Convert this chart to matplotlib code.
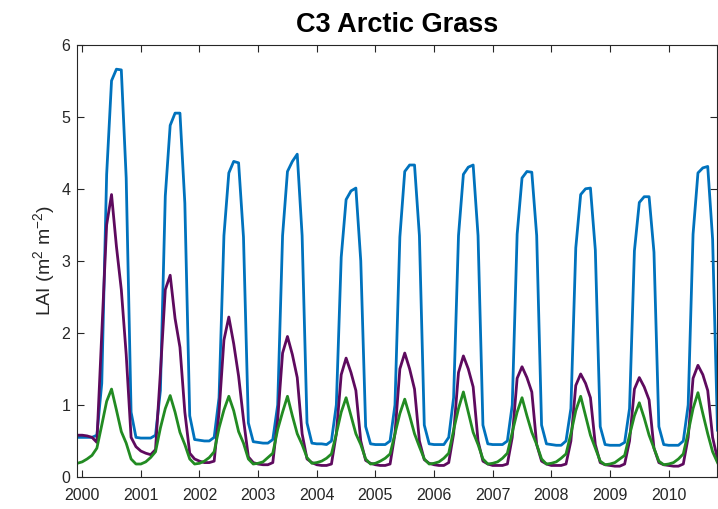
import numpy as np
import matplotlib
matplotlib.use('Agg')
import matplotlib.pyplot as plt

plt.rcParams['font.family'] = ['Liberation Sans', 'DejaVu Sans']
plt.rcParams['mathtext.fontset'] = 'custom'
plt.rcParams['mathtext.rm'] = 'Liberation Sans'
plt.rcParams['mathtext.it'] = 'Liberation Sans:italic'

# monthly LAI, one row per year (12 values each), first value ~ Dec 1999
start_year = 1999.917
years = list(range(2000, 2011))

lai_blue = [
    0.55, 0.55, 0.55, 0.55, 0.58, 1.30, 4.20, 5.50, 5.66, 5.65, 4.15, 0.90,
    0.55, 0.54, 0.54, 0.54, 0.58, 1.20, 3.90, 4.88, 5.05, 5.05, 3.80, 0.85,
    0.52, 0.51, 0.50, 0.50, 0.55, 1.10, 3.35, 4.22, 4.38, 4.36, 3.33, 0.75,
    0.49, 0.48, 0.47, 0.47, 0.52, 1.00, 3.35, 4.24, 4.38, 4.48, 3.35, 0.75,
    0.47, 0.46, 0.46, 0.45, 0.50, 1.00, 3.05, 3.85, 3.97, 4.01, 3.00, 0.70,
    0.46, 0.45, 0.45, 0.45, 0.50, 1.00, 3.33, 4.24, 4.33, 4.33, 3.35, 0.72,
    0.46, 0.45, 0.45, 0.45, 0.55, 1.10, 3.35, 4.20, 4.30, 4.33, 3.35, 0.72,
    0.46, 0.45, 0.45, 0.45, 0.50, 1.00, 3.37, 4.15, 4.24, 4.23, 3.35, 0.72,
    0.46, 0.45, 0.44, 0.44, 0.50, 0.95, 3.18, 3.92, 4.00, 4.01, 3.15, 0.70,
    0.45, 0.44, 0.44, 0.44, 0.48, 0.95, 3.14, 3.81, 3.89, 3.89, 3.12, 0.70,
    0.45, 0.44, 0.44, 0.44, 0.50, 1.00, 3.37, 4.22, 4.29, 4.31, 3.30, 0.65,
]

lai_purple = [
    0.58, 0.58, 0.57, 0.55, 0.48, 2.00, 3.50, 3.92, 3.20, 2.60, 1.70, 0.55,
    0.42, 0.36, 0.33, 0.31, 0.38, 1.45, 2.60, 2.80, 2.20, 1.80, 0.90, 0.33,
    0.25, 0.22, 0.20, 0.20, 0.22, 0.90, 1.90, 2.22, 1.85, 1.40, 0.80, 0.28,
    0.20, 0.18, 0.17, 0.17, 0.20, 0.80, 1.72, 1.95, 1.70, 1.38, 0.60, 0.25,
    0.20, 0.17, 0.16, 0.16, 0.18, 0.60, 1.42, 1.65, 1.45, 1.20, 0.50, 0.23,
    0.19, 0.17, 0.16, 0.16, 0.18, 0.60, 1.50, 1.72, 1.50, 1.22, 0.50, 0.24,
    0.19, 0.17, 0.16, 0.16, 0.20, 0.60, 1.45, 1.68, 1.50, 1.25, 0.50, 0.22,
    0.18, 0.16, 0.16, 0.16, 0.18, 0.55, 1.37, 1.53, 1.38, 1.18, 0.45, 0.22,
    0.18, 0.16, 0.16, 0.16, 0.18, 0.50, 1.27, 1.43, 1.30, 1.10, 0.45, 0.20,
    0.17, 0.16, 0.15, 0.15, 0.18, 0.50, 1.22, 1.38, 1.25, 1.07, 0.40, 0.20,
    0.17, 0.16, 0.15, 0.15, 0.18, 0.55, 1.37, 1.55, 1.42, 1.20, 0.55, 0.25,
]

lai_green = [
    0.19, 0.21, 0.25, 0.30, 0.40, 0.72, 1.05, 1.22, 0.93, 0.63, 0.47, 0.25,
    0.18, 0.18, 0.21, 0.27, 0.35, 0.68, 0.95, 1.13, 0.90, 0.62, 0.45, 0.25,
    0.18, 0.19, 0.22, 0.27, 0.35, 0.68, 0.93, 1.12, 0.92, 0.63, 0.47, 0.25,
    0.18, 0.19, 0.21, 0.27, 0.33, 0.66, 0.90, 1.12, 0.85, 0.60, 0.45, 0.27,
    0.19, 0.20, 0.22, 0.26, 0.32, 0.60, 0.90, 1.10, 0.85, 0.60, 0.45, 0.25,
    0.18, 0.19, 0.22, 0.26, 0.32, 0.60, 0.88, 1.08, 0.85, 0.60, 0.42, 0.25,
    0.18, 0.19, 0.21, 0.26, 0.33, 0.65, 0.95, 1.18, 0.90, 0.62, 0.45, 0.25,
    0.18, 0.19, 0.21, 0.26, 0.33, 0.62, 0.90, 1.10, 0.85, 0.62, 0.45, 0.25,
    0.18, 0.19, 0.21, 0.26, 0.32, 0.60, 0.92, 1.12, 0.85, 0.58, 0.40, 0.22,
    0.17, 0.18, 0.20, 0.25, 0.30, 0.58, 0.85, 1.03, 0.82, 0.58, 0.40, 0.22,
    0.17, 0.18, 0.20, 0.25, 0.32, 0.62, 0.95, 1.17, 0.88, 0.60, 0.35, 0.20,
]

t = start_year + np.arange(len(lai_blue)) / 12.0

fig = plt.figure(figsize=(7.18, 5.09), dpi=100)
ax = fig.add_axes([0.1077, 0.0629, 0.8916, 0.8493])

lw = 2.0
ax.plot(t, lai_blue, color='#0072BD', lw=lw)
ax.plot(t, lai_purple, color='#5E0A5E', lw=lw)
ax.plot(t, lai_green, color='#228B22', lw=lw)

ax.set_xlim(t[0], t[-1])
ax.set_ylim(0, 6)
ax.set_xticks(years)
ax.set_xticklabels([str(y) for y in years])
ax.set_yticks(range(0, 7))

ax.tick_params(direction='in', length=5, width=0.8, colors='#262626',
               labelsize=11.5, top=True, right=True)
ax.tick_params(axis='x', pad=8)
ax.tick_params(axis='y', pad=5)
for s in ax.spines.values():
    s.set_color('#262626')
    s.set_linewidth(0.8)

ax.set_ylabel('LAI (m$^2$ m$^{-2}$)', fontsize=14, color='#262626', labelpad=3)
ax.set_title('C3 Arctic Grass', fontsize=19.5, fontweight='bold', pad=9)

fig.savefig('out.png', dpi=100)
